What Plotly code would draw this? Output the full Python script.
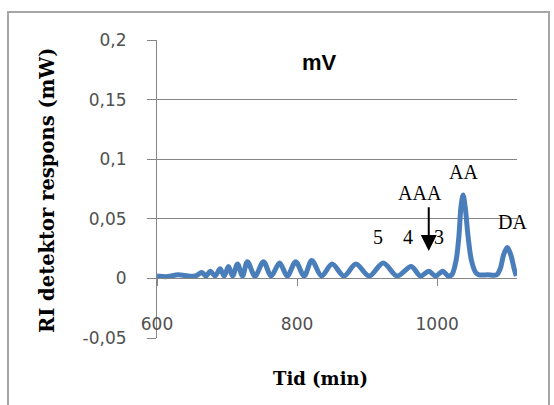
import plotly.graph_objects as go

# ---- data ----
tid = [600, 615, 630, 645, 655,
       664, 670, 676, 683, 690, 696, 702, 708, 715, 722, 729, 740, 752, 763,
       775, 786, 798, 810, 821, 835, 850, 867, 884, 903, 923, 943, 963, 976,
       988, 998, 1008, 1016, 1021, 1027, 1031, 1034, 1037, 1040, 1044, 1049,
       1055, 1060, 1072, 1085, 1090, 1095, 1100, 1105, 1110, 1113]
respons = [0.002, 0.0015, 0.003, 0.002, 0.002,
           0.005, 0.002, 0.006, 0.002, 0.008, 0.002, 0.010, 0.002, 0.012, 0.002,
           0.014, 0.002, 0.014, 0.002,
           0.013, 0.002, 0.014, 0.002, 0.015, 0.002, 0.012, 0.002, 0.012, 0.002,
           0.013, 0.002, 0.010, 0.002,
           0.006, 0.002, 0.006, 0.002, 0.003, 0.015, 0.035, 0.060, 0.070, 0.060,
           0.036, 0.015,
           0.005, 0.003, 0.003, 0.003, 0.008, 0.020, 0.026, 0.020, 0.008, 0.002]

y_tickvals = [-0.05, 0, 0.05, 0.1, 0.15, 0.2]
y_ticktext = ["-0,05", "0", "0,05", "0,1", "0,15", "0,2"]
x_tickvals = [600, 800, 1000]
x_ticktext = ["600", "800", "1000"]

peak_labels = ["5", "4", "3", "AAA", "AA", "DA"]
peak_label_x = [916, 959, 1003, 976, 1037, 1107]
peak_label_y = [0.035, 0.035, 0.035, 0.0714, 0.089, 0.047]

# ---- layout geometry (pixels) ----
W, H = 554, 405
L, R, T, B = 157, 37, 40, 67
PW, PH = W - L - R, H - T - B


def px(xp):
    return (xp - L) / PW


def py(yp):
    return (H - B - yp) / PH


GRID = "#868686"
TICKFONT = dict(family="DejaVu Sans", size=17, color="#505050")

fig = go.Figure()
fig.add_trace(go.Scatter(
    x=tid, y=respons, mode="lines",
    line=dict(color="#4a7ebb", width=5, shape="spline", smoothing=0.9),
    showlegend=False, hoverinfo="skip",
))

annotations = []
for txt, ax_, ay_ in zip(peak_labels, peak_label_x, peak_label_y):
    annotations.append(dict(
        x=ax_, y=ay_, xref="x", yref="y", text=txt, showarrow=False,
        xanchor="center", yanchor="middle",
        font=dict(family="Liberation Serif, Times New Roman", size=20, color="#000000"),
    ))

# arrow pointing down to the AAA region
annotations.append(dict(
    x=988, y=0.023, ax=988, ay=0.061, xref="x", yref="y", axref="x", ayref="y",
    text="", showarrow=True, arrowhead=2, arrowsize=1.6, arrowwidth=2,
    arrowcolor="#000000",
))

annotations.append(dict(
    x=px(319), y=py(62), xref="paper", yref="paper", text="<b>mV</b>",
    xanchor="center", yanchor="middle",
    showarrow=False, font=dict(family="Liberation Sans, Arial", size=22, color="#000000"),
))
annotations.append(dict(
    x=px(320), y=py(378), xref="paper", yref="paper", text="<b>Tid (min)</b>",
    xanchor="center", yanchor="middle",
    showarrow=False, font=dict(family="DejaVu Serif", size=18, color="#000000"),
))
annotations.append(dict(
    x=px(47), y=py(190), xref="paper", yref="paper",
    text="<b>RI detektor respons (mW)</b>", textangle=-90,
    xanchor="center", yanchor="middle",
    showarrow=False, font=dict(family="DejaVu Serif", size=19.5, color="#000000"),
))

fig.update_layout(
    width=W, height=H,
    margin=dict(l=L, r=R, t=T, b=B, pad=0),
    paper_bgcolor="white", plot_bgcolor="white",
    annotations=annotations,
    shapes=[dict(
        type="rect", xref="paper", yref="paper",
        x0=px(8), x1=px(549), y0=py(412), y1=py(12),
        line=dict(color="#a6a6a6", width=2), fillcolor="rgba(0,0,0,0)", layer="below",
    )],
    xaxis=dict(
        range=[600, 1114], tickvals=x_tickvals, ticktext=x_ticktext,
        showgrid=False, zeroline=False,
        anchor="free", position=0.2,
        showline=True, linecolor=GRID, linewidth=1,
        ticks="outside", ticklen=7, tickcolor=GRID,
        ticklabelstandoff=23, tickfont=TICKFONT,
    ),
    yaxis=dict(
        range=[-0.05, 0.2], tickvals=y_tickvals, ticktext=y_ticktext,
        showgrid=True, gridcolor=GRID, gridwidth=1, zeroline=False,
        showline=True, linecolor=GRID, linewidth=1,
        ticks="outside", ticklen=9, tickcolor=GRID,
        ticklabelstandoff=17, tickfont=TICKFONT,
    ),
)

fig.write_html("out.html")
